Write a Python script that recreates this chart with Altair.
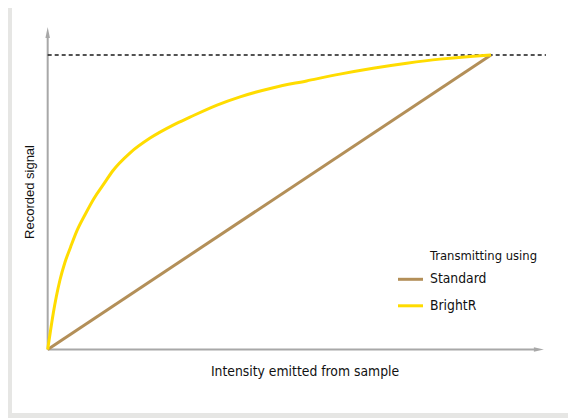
import altair as alt
import pandas as pd

# ---- data ----
x_pts = [0, 0.6, 1.26, 1.94, 2.77, 3.83, 5.19, 6.68, 8.57, 10.44, 12.7, 14.7,
         18.6, 23.1, 28.3, 32.1, 38.2, 43.4, 50.9, 58.4, 65.9, 73.4, 81.0,
         88.5, 96.0, 100]
bright_y = [0, 6.0, 12.3, 17.9, 23.6, 29.3, 34.9, 40.6, 46.2, 51.3, 56.3, 60.7,
            66.8, 71.8, 76.2, 78.9, 83.0, 85.8, 88.9, 91.2, 93.5, 95.5, 97.2,
            98.6, 99.6, 100]
standard_x = [0, 100]
standard_y = [0, 100]
series_names = ["Standard", "BrightR"]
series_colors = ["#b38f58", "#ffdc00"]
saturation_level = 100

x_title = "Intensity emitted from sample"
y_title = "Recorded signal"
legend_title = "Transmitting using"

NARROW = "DejaVu Sans Condensed, Liberation Sans Narrow, sans-serif"
REG = "Liberation Sans, Arial, sans-serif"
AXIS_GRAY = "#a8a8a8"
TEXT = "#111111"

rows = [{"series": "Standard", "x": x, "y": y} for x, y in zip(standard_x, standard_y)]
rows += [{"series": "BrightR", "x": x, "y": y} for x, y in zip(x_pts, bright_y)]
df = pd.DataFrame(rows)

XD = [-8.05, 117.37]
YD = [-21.56, 115.96]
xs = alt.Scale(domain=XD, nice=False, zero=False)
ys = alt.Scale(domain=YD, nice=False, zero=False)

# axes (with arrowheads)
axes_df = pd.DataFrame([
    {"x": 0, "x2": 0, "y": 0, "y2": 105.8},
    {"x": 0, "x2": 109.7, "y": 0, "y2": 0},
])
axes = alt.Chart(axes_df).mark_rule(color=AXIS_GRAY, strokeWidth=2).encode(
    x=alt.X("x:Q", scale=xs, axis=None),
    x2="x2:Q",
    y=alt.Y("y:Q", scale=ys, axis=None),
    y2="y2:Q",
)
arrow_x = alt.Chart(pd.DataFrame([{"x": 110.8, "y": 0}])).mark_point(
    shape="M -1 -0.45 L 1 0 L -1 0.45 Z", filled=True, color=AXIS_GRAY,
    size=100, opacity=1, strokeWidth=0
).encode(x=alt.X("x:Q", scale=xs, axis=None), y=alt.Y("y:Q", scale=ys, axis=None))
arrow_y = alt.Chart(pd.DataFrame([{"x": 0, "y": 107.6}])).mark_point(
    shape="M -0.41 1 L 0 -1 L 0.41 1 Z", filled=True, color=AXIS_GRAY,
    size=121, opacity=1, strokeWidth=0
).encode(x=alt.X("x:Q", scale=xs, axis=None), y=alt.Y("y:Q", scale=ys, axis=None))

# dashed saturation line
dash = alt.Chart(pd.DataFrame([{"x": 0, "x2": 112.4, "y": saturation_level}])).mark_rule(
    color="#1a1a1a", strokeWidth=1.3, strokeDash=[4, 3]
).encode(
    x=alt.X("x:Q", scale=xs, axis=None), x2="x2:Q",
    y=alt.Y("y:Q", scale=ys, axis=None),
)

lines = alt.Chart(df).mark_line(strokeWidth=3, interpolate="monotone").encode(
    x=alt.X("x:Q", scale=xs, axis=None),
    y=alt.Y("y:Q", scale=ys, axis=None),
    color=alt.Color(
        "series:N",
        scale=alt.Scale(domain=series_names, range=series_colors),
        sort=series_names,
        legend=alt.Legend(
            title=None, orient="none", legendX=384.5, legendY=257.3,
            padding=0,
            labelFont=NARROW, labelFontSize=13.8, labelColor=TEXT,
            symbolType="stroke", symbolSize=625, symbolStrokeWidth=3,
            labelOffset=5.5, rowPadding=5.5,
        ),
    ),
    order=alt.Order("series:N", sort="descending"),
)

one = alt.Data(values=[{"a": 1}])
legtitle = alt.Chart(one).mark_text(
    text=legend_title, font=NARROW, fontSize=12.9, color=TEXT,
    align="left", baseline="alphabetic"
).encode(x=alt.value(418), y=alt.value(252))
xlab = alt.Chart(one).mark_text(
    text=x_title, font=NARROW, fontSize=13.8, color=TEXT,
    align="center", baseline="alphabetic"
).encode(x=alt.value(293), y=alt.value(368))
ylab = alt.Chart(one).mark_text(
    text=y_title, font=REG, fontSize=13, color=TEXT, angle=270,
    align="center", baseline="alphabetic"
).encode(x=alt.value(21.5), y=alt.value(184))

chart = alt.layer(axes, arrow_x, arrow_y, dash, lines, legtitle, xlab, ylab).properties(
    width=556, height=405,
    padding={"left": 4, "right": 0, "top": 0, "bottom": 5},
    autosize=alt.AutoSizeParams(type="none"),
).configure(background="#e6e6e4").configure_view(fill="white", stroke=None)

chart.save("out.html", embed_options={"renderer": "svg", "actions": False})
